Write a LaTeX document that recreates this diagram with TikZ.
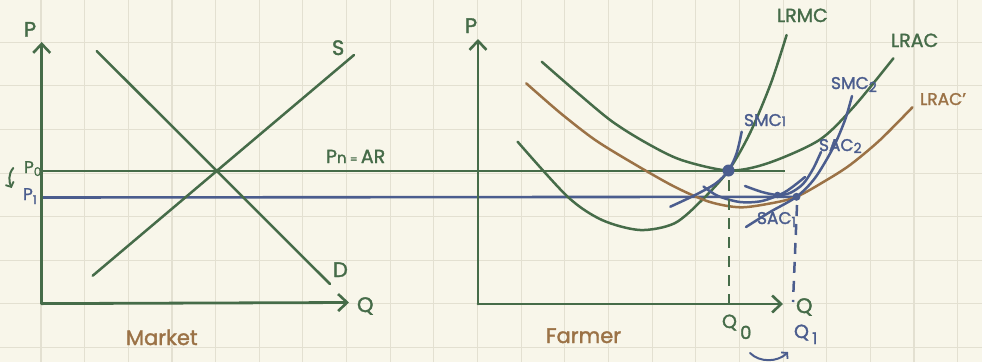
\documentclass[tikz,border=0pt]{standalone}
\usepackage{fontspec}
\setmainfont{Poppins}[FakeBold=1.6]
\usetikzlibrary{arrows.meta}
\definecolor{bg}{HTML}{F8F6EA}
\definecolor{gridc}{HTML}{E3E0D1}
\definecolor{grn}{HTML}{466C49}
\definecolor{blu}{HTML}{4B5D8E}
\definecolor{brn}{HTML}{9B7246}
\newcommand{\lsub}[3]{\raisebox{#1}{\fontsize{#2}{#2}\selectfont #3}}
\tikzset{
  gridline/.style={gridc, line width=1.1pt},
  axisline/.style={grn, line width=2.8pt, line cap=round, line join=round,
     -{Straight Barb[length=9pt,width=17pt,line width=2.6pt]}},
  curve/.style={line width=2.5pt, line cap=round, line join=round},
  hline/.style={line width=2.6pt},
  dashg/.style={line width=2.5pt, dash pattern=on 11pt off 8pt},
  lbl/.style={inner sep=0pt, outer sep=0pt, anchor=base west},
  big/.style={font=\fontsize{21}{21}\selectfont},
  mid/.style={font=\fontsize{19}{19}\selectfont},
  sml/.style={font=\fontsize{17}{17}\selectfont},
  smallarrow/.style={line width=2pt, line cap=round, -{Straight Barb[length=4pt,width=9pt,line width=1.8pt]}},
}
\begin{document}
\begin{tikzpicture}[x=1pt,y=-1pt]
\useasboundingbox (0,0) rectangle (982,362);
\fill[bg] (0,0) rectangle (982,362);
% grid
\foreach \k in {0,...,21} \draw[gridline] ({41+43.65*\k},0) -- ({41+43.65*\k},362);
\foreach \k in {0,...,7} \draw[gridline] (0,{42.3+43.6*\k}) -- (982,{42.3+43.6*\k});

% coordinates
\coordinate (LO) at (41.7,303.6);
\coordinate (LPtop) at (41.7,42);
\coordinate (LQend) at (349,302.5);
\coordinate (Dtop) at (96.7,51);
\coordinate (Dbot) at (330,284);
\coordinate (Sbot) at (92.7,275.7);
\coordinate (Stop) at (354,55);
\coordinate (P0l) at (41.7,171);
\coordinate (P0r) at (785,171);
\coordinate (P1l) at (41.7,197.5);
\coordinate (E0) at (728.5,170.5);
\coordinate (E1) at (796.5,196.8);
\coordinate (E2) at (777.5,195);
\coordinate (RO) at (478,304);
\coordinate (RPtop) at (478,39);
\coordinate (RQend) at (783,304);
\coordinate (Q0t) at (729,180);
\coordinate (Q0b) at (729,304);
\coordinate (Q1t) at (797,205);
\coordinate (Q1b) at (793,302);
\coordinate (ArA) at (13.3,168);
\coordinate (ArB) at (11.7,188);
\coordinate (BrA) at (750,353);
\coordinate (BrB) at (788,352);

% price lines
\draw[grn,hline] (P0l) -- (P0r);
\draw[blu,hline] (P1l) -- (E1);

% market lines
\draw[grn,curve] (Dtop) -- (Dbot);
\draw[grn,curve] (Sbot) -- (Stop);

% farmer curves
\draw[grn,curve] plot[smooth] coordinates {(517.6,141.7) (567.6,196.7) (602,220) (640,230) (674.5,223.3) (702,200) (728.5,170.5) (750,133) (771,83) (786.6,35)};
\draw[grn,curve] plot[smooth] coordinates {(541.7,61.7) (578,93.3) (612.4,121.7) (647,143.3) (681.4,160) (728.5,170.5) (767.6,163.3) (819.3,140) (853.8,106.7) (893.4,58.3)};
\draw[brn,curve] plot[smooth] coordinates {(526.2,83.3) (560.7,113.3) (595.2,140) (633.1,163.3) (674.5,186.7) (709,201.7) (740,207.3) (771,203.3) (796.5,196.8) (825,181) (850,165) (880,140) (912.4,107.3)};
\draw[blu,curve] plot[smooth] coordinates {(670.3,206.7) (695.2,195) (715.9,183.3) (728.5,170.5) (736.6,153.3) (741.7,131.7)};
\draw[blu,curve] plot[smooth] coordinates {(703.5,186.5) (718,196) (740,202) (762,201) (785,192) (805,177)};
\draw[blu,curve] plot[smooth] coordinates {(745,186) (762,192) (777.5,195) (790,193) (803,184) (813,169) (821,152)};
\draw[blu,curve] plot[smooth] coordinates {(746,227) (770,212) (796.5,196.8) (815,178) (833,148) (845,120) (852,96)};

% dashed drop lines
\draw[grn,dashg] (Q0t) -- (Q0b);
\draw[blu,dashg] (Q1t) -- (Q1b);

% axes
\draw[axisline] (LO) -- (LPtop);
\draw[axisline] (LO) -- (LQend);
\draw[axisline] (RO) -- (RPtop);
\draw[axisline] (RO) -- (RQend);

% dots
\fill[blu] (E0) circle (6);
\fill[blu] (E1) circle (4);
\fill[blu] (E2) circle (3.3);

% small arrows
\draw[grn,smallarrow] (ArA) .. controls (8,174) and (9,182) .. (ArB);
\draw[blu,smallarrow] (BrA) .. controls (760,363) and (778,362) .. (BrB);

% labels left
\node[lbl,big,grn] (lP) at (24,36.7) {P};
\node[lbl,big,grn] (lS) at (332,55) {S};
\node[lbl,big,grn] (lD) at (333,277) {D};
\node[lbl,big,grn] (lQ) at (357,312) {Q};
\node[lbl,big,brn] (lMarket) at (126,345) {Market};
\node[lbl,mid,grn] (lPn) at (326,163) {P\lsub{0pt}{15}{n}\,{\fontsize{11}{11}\selectfont =}\,AR};
\node[lbl,sml,grn] (lP0) at (24,173) {P\lsub{-3pt}{12}{0}};
\node[lbl,sml,blu] (lP1) at (23,200) {P\lsub{-4pt}{12}{1}};

% labels right
\node[lbl,big,grn] (rP) at (465,33) {P};
\node[lbl,mid,grn] (rLRMC) at (777,22) {LRMC};
\node[lbl,mid,grn] (rLRAC) at (891,47) {LRAC};
\node[lbl,sml,brn] (rLRACp) at (920,105) {LRAC'};
\node[lbl,sml,blu] (rSMC2) at (831,89) {SMC\lsub{-3pt}{14}{2}};
\node[lbl,sml,blu] (rSMC1) at (744,126) {SMC\lsub{0pt}{13}{1}};
\node[lbl,sml,blu] (rSAC2) at (819,151) {SAC\lsub{-2pt}{14}{2}};
\node[lbl,sml,blu] (rSAC1) at (757,224) {SAC\lsub{-3pt}{14}{1}};
\node[lbl,big,grn] (rQ) at (796,313) {Q};
\node[lbl,mid,grn] (rQ0) at (722,328) {Q\,\lsub{-11pt}{18}{0}};
\node[lbl,mid,blu] (rQ1) at (794,338) {Q\,\lsub{-6pt}{16}{1}};
\node[lbl,big,brn] (rFarmer) at (546,343) {Farmer};
\end{tikzpicture}
\end{document}
